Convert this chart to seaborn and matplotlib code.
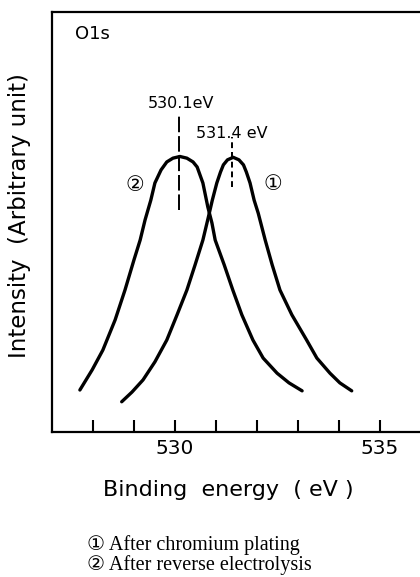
import matplotlib
matplotlib.use("Agg")
import matplotlib.pyplot as plt
import seaborn as sns
import pandas as pd

# curve 1: after chromium plating (peak 531.4 eV)
energy1 = [528.70, 528.95, 529.22, 529.51, 529.80, 530.05, 530.29, 530.49, 530.68, 530.81,
           530.91, 531.02, 531.11, 531.18, 531.28, 531.42, 531.56, 531.67, 531.74, 531.83,
           531.93, 532.03, 532.20, 532.37, 532.56, 532.85, 533.21, 533.46, 533.78, 534.02, 534.31]
intensity1 = [7.2, 9.5, 12.4, 16.7, 21.9, 27.9, 33.8, 39.8, 45.7, 51.0,
              55.2, 59.3, 61.9, 63.6, 64.8, 65.4, 64.8, 63.6, 61.9, 59.3,
              55.2, 52.1, 45.7, 39.8, 33.8, 27.9, 21.9, 17.6, 14.0, 11.7, 9.8]

# curve 2: after reverse electrolysis (peak 530.1 eV)
energy2 = [527.68, 527.98, 528.24, 528.54, 528.78, 529.00, 529.15, 529.27, 529.41, 529.51,
           529.66, 529.80, 529.95, 530.12, 530.29, 530.44, 530.54, 530.68, 530.80, 530.90,
           530.98, 531.20, 531.41, 531.63, 531.90, 532.15, 532.49, 532.78, 533.10]
intensity2 = [10.0, 14.8, 19.5, 26.7, 33.8, 41.0, 45.7, 50.5, 55.2, 59.3,
              62.4, 64.3, 65.2, 65.6, 65.2, 64.3, 63.1, 59.3, 53.6, 49.8,
              45.7, 39.8, 33.8, 27.9, 21.9, 17.6, 14.0, 11.7, 9.8]

peak_pos = [531.4, 530.1]
peak_labels = ["531.4 eV", "530.1eV"]
tick_pos = [528, 529, 530, 531, 532, 533, 534, 535]
tick_labels = ["", "", "530", "", "", "", "", "535"]
legend_lines = ["\u2460 After chromium plating", "\u2461 After reverse electrolysis"]

df = pd.concat([
    pd.DataFrame({"energy": energy1, "intensity": intensity1, "curve": "1"}),
    pd.DataFrame({"energy": energy2, "intensity": intensity2, "curve": "2"}),
])

sns.set_style("white")
plt.rcParams["font.family"] = ["DejaVu Sans"]
plt.rcParams["text.color"] = "black"
plt.rcParams["xtick.color"] = "black"

W, H = 420, 577
fig = plt.figure(figsize=(W / 100, H / 100), dpi=100)
ax = fig.add_axes([52 / W, 1 - 432 / H, 369 / W, 420 / H])

sns.lineplot(data=df, x="energy", y="intensity", units="curve", estimator=None,
             sort=False, color="black", lw=2.4, ax=ax,
             solid_joinstyle="round", solid_capstyle="round")

ax.set_xlim(527, 536)
ax.set_ylim(0, 100)

# peak markers
ax.plot([peak_pos[1]] * 2, [52.9, 76.0], color="black", lw=1.4, dashes=(8, 2))
ax.plot([peak_pos[0]] * 2, [58.4, 70.3], color="black", lw=1.4, dashes=(3, 2))

ax.text(530.15, 78.1, peak_labels[1], ha="center", va="center", fontsize=11.5)
ax.text(531.39, 71.0, peak_labels[0], ha="center", va="center", fontsize=11.5)
ax.text(529.02, 58.8, "\u2461", ha="center", va="center", fontsize=15)
ax.text(532.39, 59.0, "\u2460", ha="center", va="center", fontsize=15)
ax.text(527.57, 94.8, "O1s", ha="left", va="center", fontsize=13)

ax.set_xticks(tick_pos)
ax.set_xticklabels(tick_labels, fontsize=14.5)
ax.set_yticks([])
ax.tick_params(axis="x", direction="in", length=9, width=1.5, pad=5, bottom=True)
for s in ["left", "bottom", "top"]:
    ax.spines[s].set_linewidth(1.6)
    ax.spines[s].set_color("black")
ax.spines["right"].set_visible(False)

ax.set_xlabel("")
ax.set_ylabel("")
fig.text(228 / W, 1 - 490 / H, "Binding  energy  ( eV )", ha="center", va="center", fontsize=16)
fig.text(20 / W, 1 - 216 / H, "Intensity  (Arbitrary unit)", ha="center", va="center",
         rotation=90, fontsize=16.5)

for i, line in enumerate(legend_lines):
    fig.text(87 / W, 1 - (545 + 20 * i) / H, line, ha="left", va="center", fontsize=14.5,
             family=["Liberation Serif", "DejaVu Sans"])

fig.savefig("out.png", dpi=100)
